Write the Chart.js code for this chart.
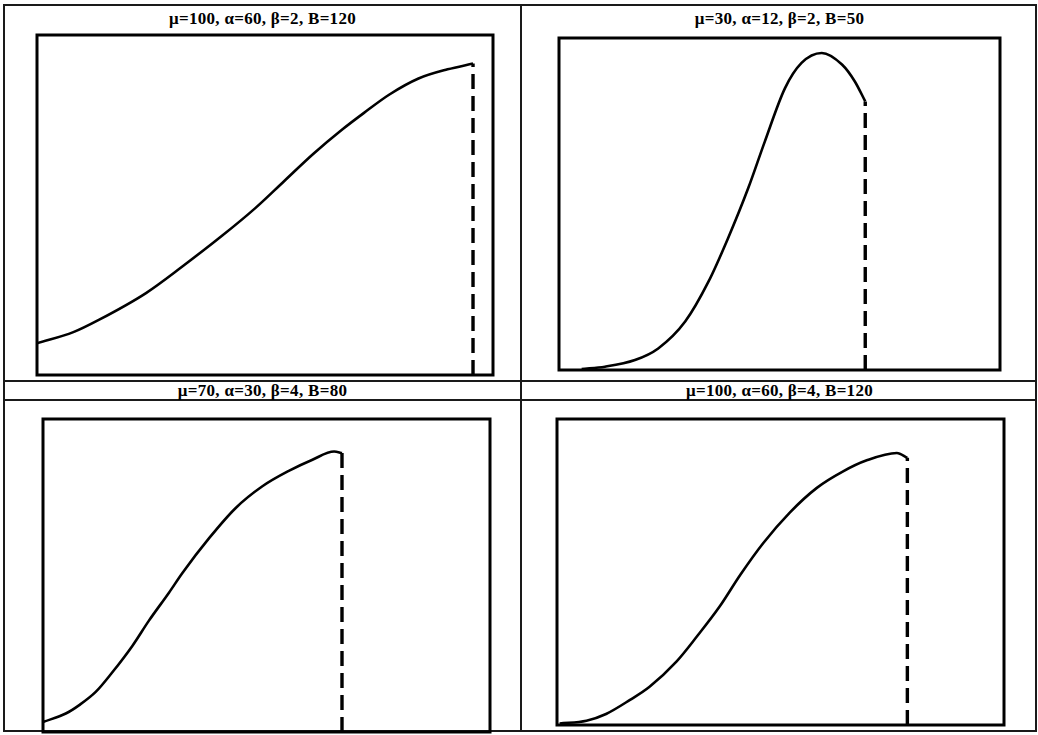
<!DOCTYPE html>
<html>
<head>
<meta charset="utf-8">
<script src="https://cdn.jsdelivr.net/npm/chart.js@4"></script>
<style>
    body { margin: 0; background: #fff; }
    #page { position: relative; width: 1038px; height: 735px; overflow: hidden; }
    .rule { position: absolute; background: #1a1a1a; }
    .title {
        position: absolute; width: 517px; text-align: center;
        font-family: "Liberation Serif", "DejaVu Serif", serif;
        font-weight: bold; font-size: 17px; color: #000; line-height: 17px;
        letter-spacing: 0.3px;
    }
    canvas { position: absolute; }
</style>
</head>
<body>
<div id="page">
    <div class="rule" style="left:4px; top:4px; width:1033px; height:2px;"></div>
    <div class="rule" style="left:3px; top:4px; width:2px; height:728px;"></div>
    <div class="rule" style="left:1035px; top:4px; width:2px; height:728px;"></div>
    <div class="rule" style="left:4px; top:730px; width:1033px; height:2px;"></div>
    <div class="rule" style="left:520px; top:4px; width:2px; height:728px;"></div>
    <div class="rule" style="left:4px; top:380px; width:1033px; height:2px;"></div>
    <div class="rule" style="left:4px; top:399px; width:1033px; height:2px;"></div>

    <div class="title" style="left:4px; top:10px;">μ=100, α=60, β=2, B=120</div>
    <div class="title" style="left:521px; top:10px;">μ=30, α=12, β=2, B=50</div>
    <div class="title" style="left:4px; top:382px;">μ=70, α=30, β=4, B=80</div>
    <div class="title" style="left:521px; top:382px;">μ=100, α=60, β=4, B=120</div>

    <canvas id="c1" width="462" height="346" style="left:34px; top:32px;"></canvas>
    <canvas id="c2" width="447" height="338" style="left:556px; top:35px;"></canvas>
    <canvas id="c3" width="453" height="319" style="left:40px; top:416px;"></canvas>
    <canvas id="c4" width="453" height="312" style="left:554px; top:416px;"></canvas>
</div>

<script>
// panel 1: mu=100, alpha=60, beta=2, B=120
const x1 = [0, 10, 17, 30, 40, 51, 60, 68, 76, 84, 90, 97, 105, 113, 120];
const y1 = [9.3, 12.6, 16.2, 24.1, 31.9, 41.0, 49.0, 57.0, 65.0, 72.2, 77.1, 82.5, 87.2, 89.9, 91.6];

// panel 2: mu=30, alpha=12, beta=2, B=50
const x2 = [3.7, 7.5, 12.4, 16.2, 20.6, 24.4, 27.6, 30.9, 33.6, 36.9, 39.6, 42.9, 46.2, 48.3, 50];
const y2 = [0.3, 1.0, 3.0, 6.5, 14.6, 26.6, 39.7, 54.8, 68.8, 84.9, 92.5, 95.5, 92.0, 86.9, 80.9];

// panel 3: mu=70, alpha=30, beta=4, B=80
const x3 = [0, 6.1, 9.7, 14.1, 18.5, 23.9, 28.3, 33.7, 37.3, 44.5, 51.5, 58.7, 65.9, 72.1, 77.9, 80];
const y3 = [3.2, 5.9, 8.6, 12.8, 19.0, 27.5, 35.5, 44.5, 50.8, 62.0, 71.5, 78.5, 83.5, 87.0, 89.6, 89.1];

// panel 4: mu=100, alpha=60, beta=4, B=120
const x4 = [0.9, 10.1, 16.8, 25, 31.7, 40.9, 47.9, 55.7, 62.8, 70.6, 79.8, 89, 98, 106.1, 116.4, 120];
const y4 = [0.5, 1.4, 3.6, 8.2, 12.5, 20.7, 28.9, 38.7, 49.1, 59.4, 69.5, 77.5, 82.9, 86.5, 88.9, 87.3];

// right end of each x axis, so that B lands where it does in the picture
const xMax = [125.5, 72.0, 119.6, 153.1];
const cutoffs = [120, 50, 80, 120];

// draws the thick frame round the plotting area
const framePlugin = {
    id: "frame",
    afterDraw(chart) {
        const { ctx, chartArea } = chart;
        ctx.save();
        ctx.strokeStyle = "#000";
        ctx.lineWidth = 3;
        ctx.strokeRect(chartArea.left, chartArea.top,
            chartArea.right - chartArea.left, chartArea.bottom - chartArea.top);
        ctx.restore();
    }
};

function makePanel(canvasId, xs, ys, maxX, cutoff) {
    const curve = xs.map((x, i) => ({ x: x, y: ys[i] }));
    const drop = [{ x: cutoff, y: 0 }, { x: cutoff, y: ys[ys.length - 1] }];

    new Chart(document.getElementById(canvasId), {
        type: "line",
        data: {
            datasets: [{
                data: curve,
                borderColor: "#000",
                borderWidth: 2.6,
                pointRadius: 0,
                cubicInterpolationMode: "monotone",
                fill: false
            }, {
                data: drop,
                borderColor: "#000",
                borderWidth: 3.4,
                borderDash: [15, 7],
                pointRadius: 0,
                fill: false
            }]
        },
        options: {
            responsive: false,
            animation: false,
            layout: { padding: 3 },
            plugins: {
                legend: { display: false },
                tooltip: { enabled: false }
            },
            scales: {
                x: { type: "linear", min: 0, max: maxX, display: false },
                y: { min: 0, max: 100, display: false }
            }
        },
        plugins: [framePlugin]
    });
}

makePanel("c1", x1, y1, xMax[0], cutoffs[0]);
makePanel("c2", x2, y2, xMax[1], cutoffs[1]);
makePanel("c3", x3, y3, xMax[2], cutoffs[2]);
makePanel("c4", x4, y4, xMax[3], cutoffs[3]);
</script>
</body>
</html>
